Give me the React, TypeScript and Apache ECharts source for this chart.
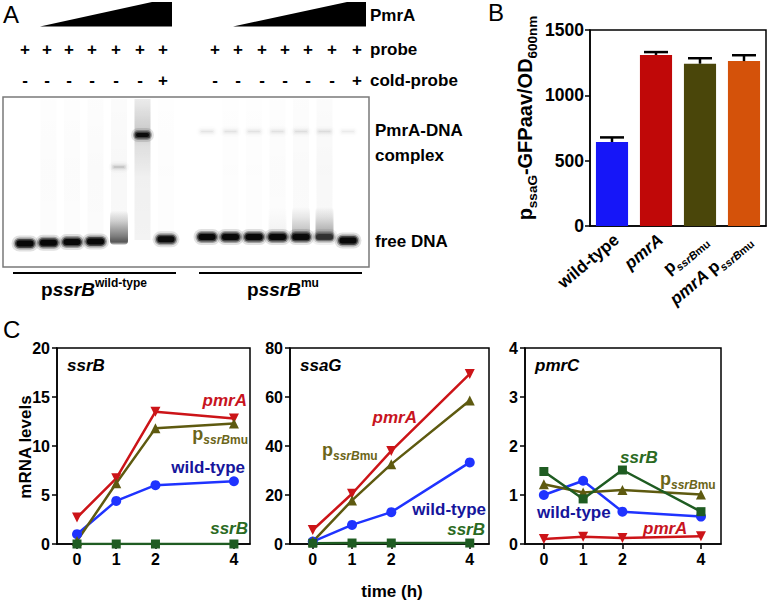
import React, { useEffect, useRef } from 'react';
import * as echarts from 'echarts';

const FONT = '"Liberation Sans", Arial, Helvetica, sans-serif';

// ---------------- Panel B data ----------------
const barCategories = ['wild-type', 'pmrA', 'pssrBmu', 'pmrA pssrBmu'];
const barValues = [643, 1309, 1242, 1262];
const barErrors = [35, 22, 42, 45];
const barColors = ['#1616f8', '#c00808', '#4a460a', '#d4520a'];
const barYMax = 1500;
const barYInterval = 500;

// ---------------- Panel C data ----------------
const timePoints = [0, 1, 2, 4];
const timeTicks = [0, 1, 2, 4];

const ssrB_wildType = [1.0, 4.4, 6.0, 6.4];
const ssrB_pmrA = [2.7, 6.7, 13.5, 12.8];
const ssrB_pssrBmu = [0.3, 6.2, 11.8, 12.3];
const ssrB_ssrB = [0.0, 0.0, 0.0, 0.0];

const ssaG_wildType = [1.0, 7.8, 13.0, 33.3];
const ssaG_pmrA = [5.7, 20.5, 38.0, 69.4];
const ssaG_pssrBmu = [1.0, 17.8, 32.6, 58.6];
const ssaG_ssrB = [0.3, 0.4, 0.4, 0.4];

const pmrC_wildType = [1.0, 1.29, 0.66, 0.56];
const pmrC_pmrA = [0.1, 0.15, 0.12, 0.16];
const pmrC_pssrBmu = [1.22, 1.05, 1.1, 1.01];
const pmrC_ssrB = [1.48, 0.92, 1.51, 0.66];

// ---------------- Panel A (gel) data: band intensities per lane ----------------
const probeWT = ['+', '+', '+', '+', '+', '+', '+'];
const coldWT = ['-', '-', '-', '-', '-', '-', '+'];
const probeMu = ['+', '+', '+', '+', '+', '+', '+'];
const coldMu = ['-', '-', '-', '-', '-', '-', '+'];
const freeWT = [1, 1, 1, 1, 0.0, 0, 0.95];
const smearWT = [0, 0, 0, 0, 0.72, 0, 0];
const hazeWT = [0, 0.015, 0.015, 0.02, 0.03, 0.06, 0.01];
const complexWT = [0, 0, 0, 0, 0, 0.95, 0];
const intermediateWT = [0, 0, 0, 0, 0.12, 0, 0];
const freeMu = [1, 1, 1, 1, 0.95, 0.5, 1];
const smearMu = [0, 0, 0, 0.06, 0.35, 0.45, 0];
const hazeMu = [0, 0.01, 0.01, 0.015, 0.02, 0.03, 0];
const wellMu = [0.05, 0.05, 0.05, 0.05, 0.06, 0.06, 0.04];

const RED = '#cc1418';
const OLIVE = '#5e5a10';
const BLUE = '#1f33ff';
const GREEN = '#1f5c22';
const RED_T = '#c8141e';
const OLIVE_T = '#6b6519';
const BLUE_T = '#16169c';
const GREEN_T = '#2a6a22';

type AnyObj = Record<string, any>;

function T(x: number, y: number, text: string, o: AnyObj = {}): AnyObj {
  const align = o.align || 'left';
  return {
    type: 'text',
    x,
    y,
    rotation: o.rotation || 0,
    z: 100,
    style: {
      text,
      fill: o.color || '#000',
      fontFamily: FONT,
      fontSize: o.size || 17,
      fontWeight: o.weight || 'bold',
      fontStyle: o.italic ? 'italic' : 'normal',
      align,
      verticalAlign: 'middle',
      textAlign: align,
      textVerticalAlign: 'middle',
      rich: o.rich,
    },
  };
}

function rs(size: number, o: AnyObj = {}): AnyObj {
  const s: AnyObj = {
    fontFamily: FONT,
    fontSize: size,
    fontWeight: 'bold',
    fontStyle: o.italic ? 'italic' : 'normal',
  };
  if (o.color) {
    s.fill = o.color;
    s.color = o.color;
  }
  if (o.lh) s.lineHeight = o.lh;
  if (o.va) s.verticalAlign = o.va;
  if (o.pad) s.padding = o.pad;
  return s;
}

function subRich(color: string, main: number, sub: number): AnyObj {
  return {
    p: rs(main, { color, lh: main + 2, va: 'bottom', pad: [0, 0, 3, 0] }),
    bi: rs(main, { color, italic: true, lh: main + 2, va: 'bottom', pad: [0, 0, 3, 0] }),
    s: rs(sub, { color, italic: true, lh: sub + 1, va: 'bottom' }),
    m: rs(sub, { color, lh: sub + 1, va: 'bottom' }),
  };
}

function softBand(cx: number, cy: number, w: number, h: number, a: number, z: number): AnyObj[] {
  const out: AnyObj[] = [];
  const layers = [
    { grow: 5, alpha: 0.12 },
    { grow: 3, alpha: 0.3 },
    { grow: 1.5, alpha: 0.6 },
    { grow: 0, alpha: 1 },
  ];
  layers.forEach((l) => {
    const ww = w + l.grow * 2;
    const hh = h + l.grow * 2;
    out.push({
      type: 'rect',
      z,
      shape: { x: cx - ww / 2, y: cy - hh / 2, width: ww, height: hh, r: hh / 2 },
      style: { fill: `rgba(8,8,8,${(a * l.alpha).toFixed(3)})` },
    });
  });
  return out;
}

function gelElements(): AnyObj[] {
  const els: AnyObj[] = [];
  els.push({
    type: 'rect',
    z: 1,
    shape: { x: 3, y: 97, width: 366, height: 170 },
    style: { fill: '#ffffff', stroke: '#7a7a7a', lineWidth: 1.5 },
  });
  const groups = [
    { x0: 25, dx: 23.5, y0: 243.5, dy: -0.7, last: 0, free: freeWT, smear: smearWT, haze: hazeWT, complex: complexWT, inter: intermediateWT, well: null as any },
    { x0: 207, dx: 23.5, y0: 237, dy: 0, last: 3.5, free: freeMu, smear: smearMu, haze: hazeMu, complex: null as any, inter: null as any, well: wellMu },
  ];
  groups.forEach((g) => {
    for (let i = 0; i < 7; i++) {
      const cx = g.x0 + g.dx * i;
      const by = g.y0 + g.dy * i + (i === 6 ? g.last : 0);
      if (g.haze[i] > 0) {
        els.push({
          type: 'rect', z: 2,
          shape: { x: cx - 8, y: 99, width: 16, height: by - 99 },
          style: {
            fill: new echarts.graphic.LinearGradient(0, 0, 0, 1, [
              { offset: 0, color: `rgba(0,0,0,${g.haze[i] * 0.5})` },
              { offset: 0.5, color: `rgba(0,0,0,${g.haze[i]})` },
              { offset: 1, color: `rgba(0,0,0,${g.haze[i] * 0.8})` },
            ]),
          },
        });
      }
      if (g.well && g.well[i] > 0) {
        els.push(...softBand(cx, 131.5, 12, 1.5, g.well[i], 3));
      }
      if (g.smear[i] > 0) {
        els.push({
          type: 'rect', z: 3,
          shape: { x: cx - 9, y: by - 30, width: 18, height: 34, r: 4 },
          style: {
            fill: new echarts.graphic.LinearGradient(0, 0, 0, 1, [
              { offset: 0, color: 'rgba(0,0,0,0)' },
              { offset: 0.3, color: `rgba(20,20,20,${g.smear[i] * 0.25})` },
              { offset: 0.75, color: `rgba(20,20,20,${g.smear[i] * 0.75})` },
              { offset: 0.92, color: `rgba(20,20,20,${g.smear[i]})` },
              { offset: 1, color: `rgba(20,20,20,${g.smear[i] * 0.3})` },
            ]),
          },
        });
      }
      if (g.complex && g.complex[i] > 0) {
        els.push({
          type: 'rect', z: 3,
          shape: { x: cx - 8, y: 99, width: 16, height: 78 },
          style: {
            fill: new echarts.graphic.LinearGradient(0, 0, 0, 1, [
              { offset: 0, color: 'rgba(0,0,0,0.05)' },
              { offset: 0.45, color: 'rgba(0,0,0,0.18)' },
              { offset: 0.6, color: 'rgba(0,0,0,0.08)' },
              { offset: 1, color: 'rgba(0,0,0,0)' },
            ]),
          },
        });
        els.push(...softBand(cx, 135, 13, 4, g.complex[i], 4));
      }
      if (g.inter && g.inter[i] > 0) {
        els.push(...softBand(cx, 167, 11, 1.5, g.inter[i], 4));
      }
      if (g.free[i] > 0) {
        els.push(...softBand(cx, by, 17, 6, g.free[i], 5));
      }
    }
  });
  return els;
}

function panelAElements(): AnyObj[] {
  const els: AnyObj[] = [];
  els.push(T(3, 14, 'A', { size: 24, weight: 'normal' }));
  els.push({ type: 'polygon', shape: { points: [[40, 26.5], [152, 2], [172, 2], [172, 26.5]] }, style: { fill: '#000' } });
  els.push({ type: 'polygon', shape: { points: [[233, 26.5], [347, 2], [366, 2], [366, 26.5]] }, style: { fill: '#000' } });
  els.push(T(370, 15, 'PmrA'));
  const xsWT = [25, 47, 69, 92, 116, 140, 163];
  const xsMu = [215, 238, 262, 285, 308, 332, 357];
  probeWT.forEach((s, i) => els.push(T(xsWT[i], 49, s, { align: 'center' })));
  probeMu.forEach((s, i) => els.push(T(xsMu[i], 49, s, { align: 'center' })));
  coldWT.forEach((s, i) => els.push(T(xsWT[i], 80, s, { align: 'center' })));
  coldMu.forEach((s, i) => els.push(T(xsMu[i], 80, s, { align: 'center' })));
  els.push(T(370, 49, 'probe'));
  els.push(T(370, 80, 'cold-probe'));
  els.push(...gelElements());
  els.push(T(375, 130, 'PmrA-DNA'));
  els.push(T(375, 155, 'complex'));
  els.push(T(375, 241, 'free DNA'));
  els.push({ type: 'line', shape: { x1: 13, y1: 273, x2: 176, y2: 273 }, style: { stroke: '#000', lineWidth: 1.8 } });
  els.push({ type: 'line', shape: { x1: 199, y1: 273, x2: 362, y2: 273 }, style: { stroke: '#000', lineWidth: 1.8 } });
  const gelRich = {
    p: rs(19, { lh: 22, va: 'bottom' }),
    i: rs(19, { italic: true, lh: 22, va: 'bottom' }),
    sup: rs(12, { lh: 12, va: 'top' }),
  };
  els.push(T(94, 288, '{p|p}{i|ssrB}{sup|wild-type}', { align: 'center', rich: gelRich }));
  els.push(T(283, 288, '{p|p}{i|ssrB}{sup|mu}', { align: 'center', rich: gelRich }));
  return els;
}

function panelBElements(): AnyObj[] {
  const els: AnyObj[] = [];
  els.push(T(488, 12, 'B', { size: 24, weight: 'normal' }));
  els.push(
    T(528, 118, '{m|p}{s|ssaG}{m|-GFPaav/OD}{s|600nm}', {
      align: 'center',
      rotation: Math.PI / 2,
      rich: {
        m: rs(20, { lh: 22, va: 'bottom', pad: [0, 0, 4, 0] }),
        s: rs(13.5, { lh: 14, va: 'bottom' }),
      },
    })
  );
  return els;
}

function panelCElements(): AnyObj[] {
  const els: AnyObj[] = [];
  els.push(T(3, 329, 'C', { size: 24, weight: 'normal' }));
  els.push(T(25, 447, 'mRNA levels', { align: 'center', rotation: Math.PI / 2 }));
  els.push(T(392, 591, 'time (h)', { align: 'center' }));
  // chart 1
  els.push(T(67, 365, 'ssrB', { italic: true }));
  els.push(T(247, 400, 'pmrA', { italic: true, color: RED_T, align: 'right' }));
  els.push(T(248, 436, '{p|p}{s|ssrB}{m|mu}', { align: 'right', rich: subRich(OLIVE_T, 18, 12) }));
  els.push(T(245, 467, 'wild-type', { color: BLUE_T, align: 'right' }));
  els.push(T(248, 528, 'ssrB', { italic: true, color: GREEN_T, align: 'right' }));
  // chart 2
  els.push(T(300, 365, 'ssaG', { italic: true }));
  els.push(T(417, 417, 'pmrA', { italic: true, color: RED_T, align: 'right' }));
  els.push(T(322, 452, '{p|p}{s|ssrB}{m|mu}', { rich: subRich(OLIVE_T, 18, 12) }));
  els.push(T(486, 509, 'wild-type', { color: BLUE_T, align: 'right' }));
  els.push(T(485, 529, 'ssrB', { italic: true, color: GREEN_T, align: 'right' }));
  // chart 3
  els.push(T(535, 365, 'pmrC', { italic: true }));
  els.push(T(620, 457, 'ssrB', { italic: true, color: GREEN_T }));
  els.push(T(660, 481, '{p|p}{s|ssrB}{m|mu}', { rich: subRich(OLIVE_T, 18, 12) }));
  els.push(T(537, 512, 'wild-type', { color: BLUE_T }));
  els.push(T(643, 528, 'pmrA', { italic: true, color: RED_T }));
  return els;
}

const catLabels: Record<string, string> = {
  'wild-type': '{p|wild-type}',
  pmrA: '{bi|pmrA}',
  pssrBmu: '{p|p}{s|ssrB}{m|mu}',
  'pmrA pssrBmu': '{bi|pmrA }{p|p}{s|ssrB}{m|mu}',
};

const axisLine = { show: true, onZero: false, lineStyle: { color: '#000', width: 1.5 } };
const axisTick = { show: true, length: 5, lineStyle: { color: '#000', width: 1.5 } };
const plainNum = (v: number) => String(v);

function cXAxis(gridIndex: number, min: number, max: number): AnyObj {
  return {
    gridIndex,
    type: 'value',
    min,
    max,
    axisLine,
    axisTick: { ...axisTick, customValues: timeTicks },
    axisLabel: { customValues: timeTicks, formatter: plainNum, fontSize: 16, fontWeight: 'bold', color: '#000', margin: 7, fontFamily: FONT },
    splitLine: { show: false },
  };
}

function cYAxis(gridIndex: number, max: number, interval: number): AnyObj {
  return {
    gridIndex,
    type: 'value',
    min: 0,
    max,
    interval,
    axisLine,
    axisTick,
    axisLabel: { formatter: plainNum, fontSize: 16, fontWeight: 'bold', color: '#000', margin: 7, fontFamily: FONT },
    splitLine: { show: false },
  };
}

function lineSeries(idx: number, values: number[], color: string, symbol: string, size: number, rotate = 0): AnyObj {
  return {
    type: 'line',
    xAxisIndex: idx,
    yAxisIndex: idx,
    data: timePoints.map((t, i) => [t, values[i]]),
    symbol,
    symbolSize: size,
    symbolRotate: rotate,
    showAllSymbol: true,
    lineStyle: { color, width: 2.5 },
    itemStyle: { color, borderWidth: 0 },
    emphasis: { disabled: true },
  };
}

function baseGraphics(): AnyObj[] {
  return [...panelAElements(), ...panelBElements(), ...panelCElements()];
}

function buildOption(): AnyObj {
  const gridStyle = { show: true, borderColor: '#000', borderWidth: 1.5, backgroundColor: 'transparent', containLabel: false };
  return {
    animation: false,
    textStyle: { fontFamily: FONT },
    grid: [
      { ...gridStyle, left: 590, top: 30, width: 176, height: 196 },
      { ...gridStyle, left: 57, top: 348, width: 193, height: 196 },
      { ...gridStyle, left: 290, top: 348, width: 199, height: 196 },
      { ...gridStyle, left: 525, top: 348, width: 196, height: 196 },
    ],
    xAxis: [
      {
        gridIndex: 0,
        type: 'category',
        data: barCategories,
        axisLine,
        axisTick: { show: false },
        axisLabel: { show: false },
      },
      cXAxis(1, -0.51, 4.41),
      cXAxis(2, -0.58, 4.49),
      cXAxis(3, -0.48, 4.51),
    ],
    yAxis: [
      {
        gridIndex: 0,
        type: 'value',
        min: 0,
        max: barYMax,
        interval: barYInterval,
        axisLine,
        axisTick,
        axisLabel: { formatter: plainNum, fontSize: 17.5, fontWeight: 'bold', color: '#000', margin: 6, fontFamily: FONT },
        splitLine: { show: false },
      },
      cYAxis(1, 20, 5),
      cYAxis(2, 80, 20),
      cYAxis(3, 4, 1),
    ],
    series: [
      {
        type: 'bar',
        xAxisIndex: 0,
        yAxisIndex: 0,
        barWidth: '73%',
        data: barValues.map((v, i) => ({ value: v, itemStyle: { color: barColors[i] } })),
        emphasis: { disabled: true },
      },
      {
        type: 'custom',
        xAxisIndex: 0,
        yAxisIndex: 0,
        z: 5,
        data: barValues.map((v, i) => [i, v, barErrors[i]]),
        encode: { x: 0, y: 1 },
        renderItem: (_p: any, api: any) => {
          const base = api.coord([api.value(0), api.value(1)]);
          const top = api.coord([api.value(0), api.value(1) + api.value(2)]);
          const hw = 12;
          return {
            type: 'group',
            children: [
              { type: 'line', shape: { x1: base[0], y1: base[1], x2: base[0], y2: top[1] }, style: { stroke: '#000', lineWidth: 2.5 } },
              { type: 'line', shape: { x1: base[0] - hw, y1: top[1], x2: base[0] + hw, y2: top[1] }, style: { stroke: '#000', lineWidth: 2.5 } },
            ],
          };
        },
      },
      lineSeries(1, ssrB_wildType, BLUE, 'circle', 10),
      lineSeries(1, ssrB_pmrA, RED, 'triangle', 10, 180),
      lineSeries(1, ssrB_pssrBmu, OLIVE, 'triangle', 10),
      lineSeries(1, ssrB_ssrB, GREEN, 'rect', 9),
      lineSeries(2, ssaG_wildType, BLUE, 'circle', 10),
      lineSeries(2, ssaG_pmrA, RED, 'triangle', 10, 180),
      lineSeries(2, ssaG_pssrBmu, OLIVE, 'triangle', 10),
      lineSeries(2, ssaG_ssrB, GREEN, 'rect', 9),
      lineSeries(3, pmrC_wildType, BLUE, 'circle', 10),
      lineSeries(3, pmrC_pmrA, RED, 'triangle', 10, 180),
      lineSeries(3, pmrC_pssrBmu, OLIVE, 'triangle', 10),
      lineSeries(3, pmrC_ssrB, GREEN, 'rect', 9),
    ],
    graphic: baseGraphics(),
  };
}

export default function App() {
  const ref = useRef<HTMLDivElement>(null);
  useEffect(() => {
    document.body.style.margin = '0';
    if (!ref.current) return;
    const chart = echarts.init(ref.current, undefined, { renderer: 'svg' });
    chart.setOption(buildOption());
    // rotated category labels of panel B, anchored at the axis' own tick positions
    const catRich = subRich('#000', 17, 11);
    const labels = barCategories.map((c, i) => {
      const pt = chart.convertToPixel({ xAxisIndex: 0, yAxisIndex: 0 }, [i, 0]) as number[];
      return T(pt[0] + 6, pt[1] + 13, catLabels[c], { align: 'right', rotation: (40 * Math.PI) / 180, rich: catRich });
    });
    chart.setOption({ graphic: [...baseGraphics(), ...labels] });
    return () => chart.dispose();
  }, []);
  return <div ref={ref} style={{ width: 768, height: 602, background: '#fff' }} />;
}
